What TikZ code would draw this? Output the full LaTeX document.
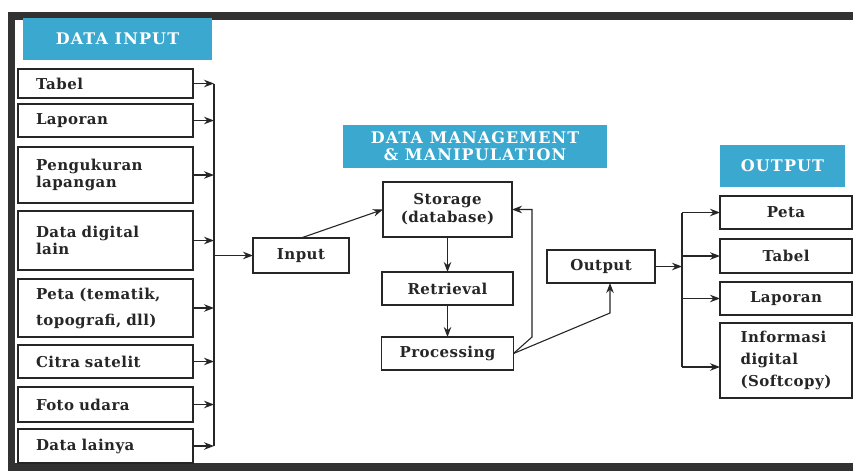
\documentclass[tikz,border=0pt]{standalone}
\usepackage{fontspec}
\setmainfont{DejaVu Serif}
\usetikzlibrary{positioning, arrows.meta}
\definecolor{hdrblue}{RGB}{58,168,207}
\definecolor{inkgray}{RGB}{38,38,38}
\definecolor{framegray}{RGB}{50,50,50}
\newcommand{\boxfont}[1]{\bfseries\fontsize{15}{#1}\selectfont\addfontfeatures{LetterSpace=3}}
\tikzstyle{inbox} = [draw=inkgray, line width=1.2pt, outer sep=0pt, minimum width=175pt, text width=139pt, inner xsep=18pt, align=left, text=inkgray, font=\boxfont{17}]
\tikzstyle{midbox} = [draw=inkgray, line width=1.2pt, outer sep=0pt, align=center, text=inkgray, font=\boxfont{18}]
\tikzstyle{header} = [fill=hdrblue, text=white, align=center, font=\bfseries\fontsize{16}{17}\selectfont\addfontfeatures{LetterSpace=7}]
\tikzstyle{arrow} = [line width=1.1pt, -{Stealth[length=10pt, width=7.5pt]}, draw=inkgray]

\begin{document}
\begin{tikzpicture}[x=1pt, y=-1pt]
\useasboundingbox (0,0) rectangle (853,472);
\fill[white] (0,0) rectangle (853,472);
% outer frame
\draw[line width=7.5pt, framegray] (853,16) -- (11.5,16) -- (11.5,467) -- (853,467);

% data input column
\node[header, minimum width=189pt, minimum height=42pt] (hin) at (117.5,39) {DATA INPUT};
\node[inbox, minimum height=29pt] (tabel) at (105.5,83.5) {Tabel};
\node[inbox, minimum height=33pt, below=6pt of tabel] (laporan) {Laporan};
\node[inbox, minimum height=56pt, below=10pt of laporan] (ukur) {Pengukuran\\lapangan};
\node[inbox, minimum height=59pt, below=8pt of ukur] (digital) {Data digital\\lain};
\node[inbox, minimum height=58pt, below=9pt of digital] (peta) {Peta (tematik,\\[9pt]topografi, dll)};
\node[inbox, minimum height=33pt, below=8pt of peta] (citra) {Citra satelit};
\node[inbox, minimum height=35pt, below=9pt of citra] (foto) {Foto udara};
\node[inbox, minimum height=34pt, below=7pt of foto] (lainya) {Data lainya};
\coordinate (ibus) at (214,0);

% data management
\node[header, minimum width=264pt, minimum height=43pt] (hdm) at (475,146.5) {DATA MANAGEMENT\\\& MANIPULATION};
\node[midbox, minimum width=96pt, minimum height=35pt] (input) at (301,255.5) {Input};
\node[midbox, minimum width=129pt, minimum height=55pt] (storage) at (447.5,209.5) {Storage\\(database)};
\node[midbox, minimum width=131pt, minimum height=33pt, below=35pt of storage] (retrieval) {Retrieval};
\node[midbox, minimum width=132pt, minimum height=33pt, below=32pt of retrieval] (proc) {Processing};
\node[midbox, minimum width=108pt, minimum height=33pt] (output) at (601,266.5) {Output};
\coordinate (fb) at (532,0);
\coordinate (obend) at (610,313);

% output column
\node[header, minimum width=125pt, minimum height=42pt] (hout) at (782.5,166) {OUTPUT};
\node[midbox, minimum width=132pt, minimum height=33pt] (opeta) at (786,212.5) {Peta};
\node[midbox, minimum width=132pt, minimum height=34pt, below=10pt of opeta] (otabel) {Tabel};
\node[midbox, minimum width=132pt, minimum height=33pt, below=9pt of otabel] (olaporan) {Laporan};
\node[midbox, minimum width=132pt, minimum height=75pt, below=8pt of olaporan, align=left, font=\boxfont{22}] (info) {Informasi\\digital\\(Softcopy)};
\coordinate (obus) at (682,0);
\coordinate (iarr) at (682,367);

% input arrows
\foreach \n in {tabel, laporan, ukur, digital, peta, citra, foto, lainya}
  \draw[arrow] (\n.east) -- (ibus |- \n.east);
\draw[line width=1.1pt, inkgray] (ibus |- tabel.east) -- (ibus |- lainya.east);
\draw[arrow] (ibus |- input.west) -- (input.west);

% management arrows
\draw[arrow] (input.north) -- (storage.west);
\draw[arrow] (storage) -- (retrieval);
\draw[arrow] (retrieval) -- (proc);
\draw[arrow] (proc.east) -- (fb |- proc.north) -- (fb |- storage.east) -- (storage.east);
\draw[arrow] (proc.east) -- (obend) -- (obend |- output.south);

% output arrows
\draw[arrow] (output.east) -- (obus |- output.east);
\draw[line width=1.1pt, inkgray] (obus |- opeta.west) -- (iarr);
\foreach \n in {opeta, otabel, olaporan}
  \draw[arrow] (obus |- \n.west) -- (\n.west);
\draw[arrow] (iarr) -- (info.west |- iarr);
\end{tikzpicture}
\end{document}
